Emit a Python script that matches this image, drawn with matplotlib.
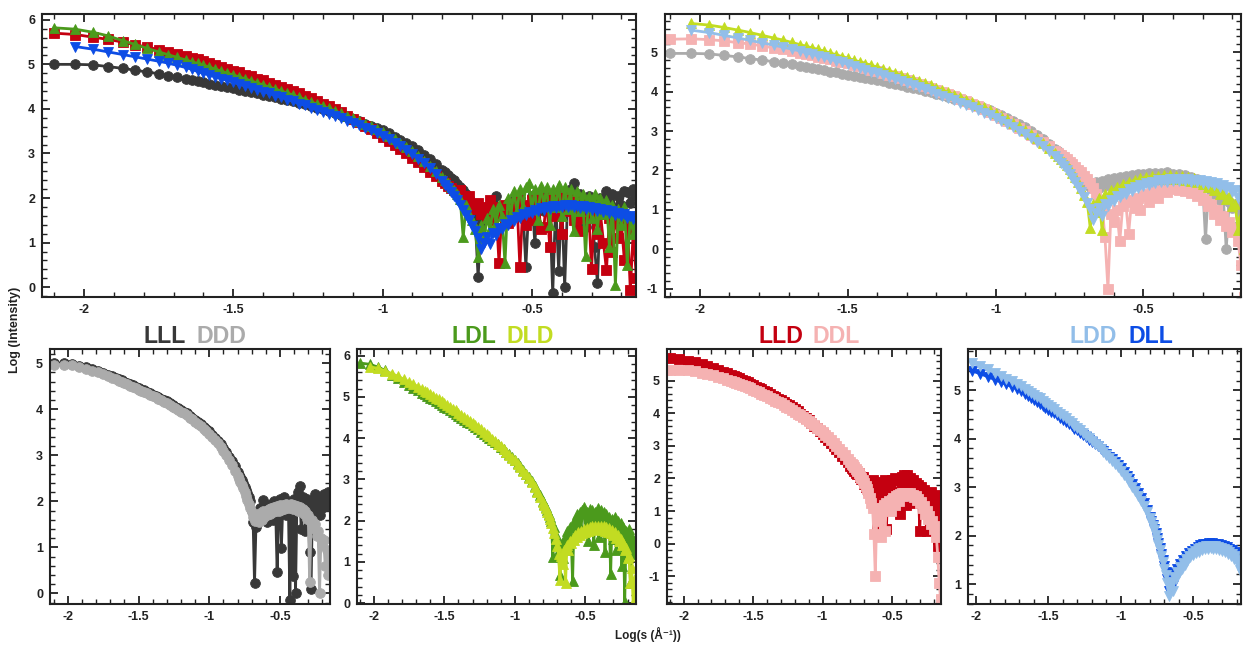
import numpy as np
import matplotlib
matplotlib.use('Agg')
import matplotlib.pyplot as plt
from matplotlib.ticker import MultipleLocator, FuncFormatter

nan = np.nan

# log10(s) grid shared by all curves
log_s = [
    -2.10, -2.03, -1.97, -1.92, -1.87, -1.83, -1.79, -1.75, -1.72, -1.69, -1.66,
    -1.64, -1.62, -1.60, -1.58, -1.56, -1.54, -1.52, -1.50, -1.48, -1.46,
    -1.44, -1.42, -1.40, -1.38, -1.36, -1.34, -1.32, -1.30, -1.28, -1.26,
    -1.24, -1.22, -1.20, -1.18, -1.16, -1.14, -1.12, -1.10, -1.08, -1.06,
    -1.04, -1.02, -1.00, -0.98, -0.96, -0.94, -0.92, -0.90, -0.88, -0.86,
    -0.84, -0.82,
    -0.80, -0.79, -0.78, -0.77, -0.76, -0.75, -0.74, -0.73, -0.72, -0.71,
    -0.70, -0.69, -0.68, -0.67, -0.66, -0.65, -0.64, -0.63, -0.62, -0.61,
    -0.60, -0.59, -0.58, -0.57, -0.56, -0.55, -0.54, -0.53, -0.52, -0.51,
    -0.50, -0.49, -0.48, -0.47, -0.46, -0.45, -0.44, -0.43, -0.42, -0.41,
    -0.40, -0.39, -0.38, -0.37, -0.36, -0.35, -0.34, -0.33, -0.32, -0.31,
    -0.30, -0.29, -0.28, -0.27, -0.26, -0.25, -0.24, -0.23, -0.22, -0.21,
    -0.20, -0.19, -0.18, -0.17, -0.16, -0.15,
]

LLL = [
    5.00, 5.00, 4.99, 4.95, 4.91, 4.87, 4.83, 4.79, 4.75, 4.72, 4.68,
    4.65, 4.63, 4.60, 4.57, 4.54, 4.52, 4.49, 4.46, 4.43, 4.41,
    4.38, 4.35, 4.32, 4.29, 4.26, 4.23, 4.20, 4.17, 4.13, 4.10,
    4.06, 4.03, 3.99, 3.95, 3.91, 3.86, 3.82, 3.77, 3.72, 3.67,
    3.62, 3.57, 3.52, 3.45, 3.38, 3.31, 3.24, 3.16, 3.07, 2.97,
    2.87, 2.76,
    2.64, 2.58, 2.52, 2.46, 2.40, 2.32, 2.25, 2.18, 2.10, 2.00,
    1.80, 1.55, 0.22, 1.45, 1.70, 1.60, 1.85, 1.75, 2.04, 1.65,
    1.80, 1.55, 1.90, 1.70, 1.95, 1.60, 2.00, 1.75, 0.46, 1.85,
    2.05, 0.99, 1.90, 2.10, 1.70, 2.00, 1.80, -0.14, 1.90, 0.37,
    2.05, 0.00, 1.95, 2.20, 2.33, 1.40, 2.10, 1.90, 1.35, 2.05,
    1.85, 0.90, 0.09, 2.00, 1.75, 2.15, 1.90, 2.10, 1.70, 2.05,
    1.85, 2.15, 2.13, 1.90, 2.20, 2.05,
]

DDD = [
    4.97, 4.97, 4.96, 4.92, 4.88, 4.84, 4.80, 4.76, 4.72, 4.69, 4.65,
    4.62, 4.60, 4.57, 4.54, 4.51, 4.49, 4.46, 4.43, 4.40, 4.38,
    4.35, 4.32, 4.29, 4.26, 4.23, 4.20, 4.16, 4.13, 4.09, 4.06,
    4.02, 3.99, 3.95, 3.91, 3.87, 3.82, 3.78, 3.73, 3.68, 3.63,
    3.58, 3.53, 3.47, 3.40, 3.33, 3.26, 3.18, 3.10, 3.00, 2.90,
    2.79, 2.67,
    2.55, 2.49, 2.43, 2.36, 2.29, 2.21, 2.12, 2.03, 1.94, 1.85,
    1.76, 1.66, 1.58, 1.62, 1.70, 1.55, 1.74, 1.60, 1.78, 1.66,
    1.80, 1.70, 1.84, 1.72, 1.86, 1.76, 1.88, 1.78, 1.90, 1.80,
    1.92, 1.82, 1.93, 1.84, 1.94, 1.85, 1.93, 1.86, 1.95, 1.84,
    1.92, 1.85, 1.90, 1.80, 1.88, 1.78, 1.84, 1.72, 1.78, 1.62,
    1.70, 0.25, 1.55, 1.60, 1.40, 1.50, 1.25, 1.35, 0.00, 1.20,
    1.05, 1.15, 0.60, 0.95, 0.40, 0.85,
]

LLD = [
    5.70, 5.67, 5.61, 5.56, 5.50, 5.44, 5.39, 5.33, 5.28, 5.23, 5.18,
    5.14, 5.11, 5.07, 5.03, 4.99, 4.95, 4.90, 4.86, 4.82, 4.77,
    4.73, 4.68, 4.64, 4.59, 4.54, 4.50, 4.45, 4.40, 4.35, 4.29,
    4.24, 4.18, 4.12, 4.06, 3.99, 3.92, 3.85, 3.78, 3.70, 3.62,
    3.54, 3.45, 3.36, 3.27, 3.18, 3.09, 3.00, 2.90, 2.80, 2.70,
    2.59, 2.49,
    2.38, 2.33, 2.28, 2.23, 2.18, 2.13, 2.18, 2.05, 1.98, 2.05,
    1.84, 1.75, 1.90, 1.65, 1.80, 1.55, 1.95, 1.50, 1.80, 0.54,
    1.70, 1.85, 1.45, 1.90, 1.60, 1.95, 0.45, 1.85, 1.40, 1.57,
    1.95, 1.50, 2.00, 1.30, 1.35, 1.95, 0.90, 2.05, 1.60, 2.10,
    1.20, 2.10, 1.70, 2.00, 1.50, 1.95, 1.25, 1.85, 1.55, 1.80,
    0.40, 1.75, 1.20, 1.65, 1.00, 0.38, 1.55, 0.80, 1.60, 1.10,
    1.45, 0.60, 1.50, -0.07, 1.30, 0.20,
]

DDL = [
    5.33, 5.34, 5.32, 5.29, 5.24, 5.21, 5.16, 5.11, 5.08, 5.03, 4.99,
    4.96, 4.93, 4.89, 4.86, 4.83, 4.79, 4.76, 4.72, 4.68, 4.64,
    4.60, 4.56, 4.52, 4.48, 4.43, 4.39, 4.34, 4.30, 4.25, 4.20,
    4.15, 4.10, 4.05, 3.99, 3.94, 3.88, 3.82, 3.76, 3.69, 3.63,
    3.56, 3.49, 3.42, 3.34, 3.26, 3.17, 3.09, 3.00, 2.91, 2.81,
    2.71, 2.61,
    2.50, 2.45, 2.40, 2.34, 2.28, 2.22, 2.16, 2.09, 2.02, 1.95,
    1.87, 1.78, 1.68, 1.55, 1.40, 1.25, 1.10, 0.30, -1.00, 0.90,
    0.70, 1.00, 0.20, 1.10, 1.20, 0.40, 1.25, 1.05, 1.30, 1.00,
    1.35, 1.40, 1.20, 1.45, 1.50, 1.30, 1.52, 1.55, 1.45, 1.55,
    1.52, 1.56, 1.50, 1.54, 1.48, 1.50, 1.42, 1.45, 1.35, 1.38,
    1.25, 1.28, 1.10, 1.15, 0.90, 1.00, 0.75, 0.85, 0.60, 0.70,
    0.45, 0.55, 0.20, -0.40, -1.20, -1.70,
]

LDL = [
    5.82, 5.79, 5.72, 5.64, 5.53, 5.45, 5.36, 5.28, 5.22, 5.16, 5.10,
    5.06, 5.02, 4.98, 4.94, 4.89, 4.85, 4.80, 4.76, 4.72, 4.67,
    4.63, 4.58, 4.54, 4.49, 4.45, 4.40, 4.36, 4.31, 4.26, 4.21,
    4.16, 4.11, 4.06, 4.01, 3.96, 3.90, 3.85, 3.79, 3.73, 3.67,
    3.61, 3.55, 3.48, 3.40, 3.32, 3.23, 3.14, 3.05, 2.95, 2.84,
    2.73, 2.61,
    2.48, 2.40, 2.33, 2.25, 2.17, 2.08, 1.98, 1.12, 1.85, 1.65,
    1.50, 1.30, 0.68, 1.40, 1.10, 1.55, 1.30, 1.75, 1.45, 1.85,
    1.60, 0.54, 2.00, 1.65, 2.15, 1.70, 2.20, 1.80, 2.25, 2.33,
    1.75, 2.20, 1.50, 2.28, 1.85, 2.25, 1.40, 2.20, 1.80, 2.30,
    1.60, 2.25, 1.75, 2.20, 1.25, 2.15, 1.70, 2.10, 0.70, 2.05,
    1.55, 2.10, 1.30, 2.00, 1.65, 1.95, 0.90, 1.85, 0.04, 1.75,
    1.40, 1.80, 0.50, 1.60, 1.20, 1.50,
]

DLD = [
    nan, 5.73, 5.69, 5.63, 5.56, 5.50, 5.43, 5.36, 5.31, 5.25, 5.19,
    5.15, 5.11, 5.07, 5.03, 4.98, 4.94, 4.89, 4.85, 4.80, 4.76,
    4.71, 4.67, 4.62, 4.57, 4.52, 4.47, 4.42, 4.37, 4.32, 4.26,
    4.21, 4.16, 4.10, 4.04, 3.98, 3.92, 3.86, 3.80, 3.74, 3.67,
    3.60, 3.53, 3.46, 3.38, 3.30, 3.21, 3.12, 3.03, 2.93, 2.82,
    2.70, 2.58,
    2.45, 2.38, 2.30, 2.22, 2.13, 2.04, 1.94, 1.83, 1.70, 1.55,
    1.38, 1.20, 0.55, 1.15, 0.95, 1.30, 0.50, 1.40, 1.30, 1.50,
    1.45, 1.58, 1.52, 1.65, 1.60, 1.72, 1.66, 1.76, 1.70, 1.80,
    1.73, 1.83, 1.76, 1.85, 1.78, 1.87, 1.79, 1.88, 1.80, 1.88,
    1.79, 1.87, 1.78, 1.86, 1.76, 1.84, 1.73, 1.81, 1.70, 1.77,
    1.65, 1.72, 1.58, 1.65, 1.50, 1.56, 1.40, 1.46, 1.28, 1.34,
    1.10, 1.15, 0.50, 0.85, 0.00, 0.60,
]

DLL = [
    nan, 5.40, 5.34, 5.28, 5.22, 5.17, 5.12, 5.07, 5.03, 4.98, 4.93,
    4.89, 4.84, 4.80, 4.76, 4.72, 4.68, 4.64, 4.60, 4.56, 4.52,
    4.48, 4.43, 4.39, 4.35, 4.30, 4.26, 4.21, 4.17, 4.12, 4.08,
    4.03, 3.98, 3.94, 3.89, 3.84, 3.79, 3.74, 3.69, 3.63, 3.58,
    3.52, 3.46, 3.40, 3.32, 3.24, 3.16, 3.07, 2.98, 2.88, 2.78,
    2.67, 2.53,
    2.38, 2.30, 2.22, 2.14, 2.05, 1.95, 1.85, 1.74, 1.62, 1.50,
    1.38, 1.25, 1.10, 0.85, 1.00, 1.12, 0.98, 1.22, 1.18, 1.32,
    1.30, 1.42, 1.40, 1.50, 1.48, 1.58, 1.55, 1.64, 1.61, 1.69,
    1.66, 1.73, 1.70, 1.77, 1.73, 1.80, 1.76, 1.82, 1.78, 1.83,
    1.79, 1.84, 1.79, 1.84, 1.79, 1.83, 1.78, 1.82, 1.76, 1.80,
    1.74, 1.78, 1.72, 1.76, 1.69, 1.73, 1.66, 1.70, 1.63, 1.67,
    1.60, 1.64, 1.56, 1.60, 1.52, 1.55,
]

LDD = [
    nan, 5.56, 5.50, 5.43, 5.36, 5.30, 5.24, 5.18, 5.13, 5.08, 5.03,
    4.99, 4.95, 4.91, 4.87, 4.83, 4.78, 4.74, 4.70, 4.65, 4.61,
    4.56, 4.51, 4.47, 4.42, 4.37, 4.32, 4.27, 4.22, 4.17, 4.12,
    4.06, 4.01, 3.95, 3.90, 3.84, 3.78, 3.72, 3.66, 3.60, 3.54,
    3.47, 3.41, 3.34, 3.26, 3.18, 3.10, 3.01, 2.92, 2.82, 2.72,
    2.61, 2.49,
    2.36, 2.28, 2.20, 2.11, 2.02, 1.92, 1.81, 1.70, 1.58, 1.45,
    1.32, 1.18, 1.02, 0.75, 0.92, 1.05, 0.85, 1.15, 1.10, 1.25,
    1.22, 1.35, 1.32, 1.44, 1.40, 1.52, 1.48, 1.58, 1.55, 1.64,
    1.60, 1.68, 1.64, 1.72, 1.67, 1.75, 1.70, 1.77, 1.72, 1.78,
    1.73, 1.79, 1.74, 1.79, 1.73, 1.78, 1.72, 1.77, 1.70, 1.75,
    1.68, 1.73, 1.66, 1.70, 1.62, 1.67, 1.58, 1.63, 1.52, 1.57,
    1.45, 1.50, 1.30, 1.42, 1.20, 1.35,
]

series = {'LLL': LLL, 'DDD': DDD, 'LLD': LLD, 'DDL': DDL,
          'LDL': LDL, 'DLD': DLD, 'DLL': DLL, 'LDD': LDD}
colors = {'LLL': '#383838', 'DDD': '#ababab', 'LLD': '#c40010', 'DDL': '#f5b2b2',
          'LDL': '#4b9a1c', 'DLD': '#c2dc22', 'DLL': '#0d4de5', 'LDD': '#92bee9'}
markers = {'LLL': 'o', 'DDD': 'o', 'LLD': 's', 'DDL': 's',
           'LDL': '^', 'DLD': '^', 'DLL': 'v', 'LDD': 'v'}

plt.rcParams['font.family'] = ['Liberation Sans', 'DejaVu Sans']
plt.rcParams['font.weight'] = 'bold'
plt.rcParams['axes.unicode_minus'] = False

W, H = 1243, 645
fig = plt.figure(figsize=(W / 100, H / 100), dpi=100)


def make_ax(x0, x1, y0, y1):
    # pixel box -> figure fraction
    return fig.add_axes([x0 / W, 1 - y1 / H, (x1 - x0) / W, (y1 - y0) / H])


def style(ax, xlim, ylim):
    ax.set_xlim(*xlim)
    ax.set_ylim(*ylim)
    ax.xaxis.set_major_locator(MultipleLocator(0.5))
    ax.xaxis.set_minor_locator(MultipleLocator(0.1))
    ax.yaxis.set_major_locator(MultipleLocator(1))
    ax.yaxis.set_minor_locator(MultipleLocator(0.2))
    fmt = FuncFormatter(lambda v, p: '%g' % (round(v, 3) + 0.0))
    ax.xaxis.set_major_formatter(fmt)
    ax.yaxis.set_major_formatter(fmt)
    ax.tick_params(which='both', direction='in', top=True, right=True,
                   labelsize=9, colors='#222222', pad=5)
    ax.tick_params(which='major', length=6, width=1.3)
    ax.tick_params(which='minor', length=3.5, width=1.0)
    for sp in ax.spines.values():
        sp.set_linewidth(1.5)
        sp.set_color('#222222')


def draw(ax, names):
    for n in names:
        c = colors[n]
        ax.plot(log_s, series[n], color=c, marker=markers[n], ms=7, lw=2.0,
                mfc=c, mec=c, mew=0.6)


panels = [
    ((42, 636, 14, 297), (-2.141, -0.151), (-0.22, 6.13), ['LLL', 'LLD', 'LDL', 'DLL']),
    ((665, 1241, 14, 297), (-2.118, -0.17), (-1.21, 5.97), ['DDD', 'DDL', 'DLD', 'LDD']),
    ((50, 330, 349, 604), (-2.127, -0.146), (-0.23, 5.31), ['LLL', 'DDD']),
    ((357, 636, 349, 604), (-2.12, -0.14), (-0.02, 6.16), ['LDL', 'DLD']),
    ((667, 941, 349, 604), (-2.12, -0.147), (-1.85, 5.97), ['LLD', 'DDL']),
    ((968, 1241, 349, 604), (-2.055, -0.17), (0.59, 5.85), ['DLL', 'LDD']),
]

for box, xl, yl, names in panels:
    ax = make_ax(*box)
    style(ax, xl, yl)
    draw(ax, names)

# pair titles over the bottom panels
titles = [('LLL', 'DDD', 186, 197), ('LDL', 'DLD', 496, 506),
          ('LLD', 'DDL', 803, 813), ('LDD', 'DLL', 1117, 1128)]
for a, b, xr, xlft in titles:
    fig.text(xr / W, 1 - 343 / H, a, color=colors[a], ha='right', va='baseline',
             fontsize=16.7, fontweight='bold')
    fig.text(xlft / W, 1 - 343 / H, b, color=colors[b], ha='left', va='baseline',
             fontsize=16.7, fontweight='bold')

fig.text(15 / W, 1 - 330 / H, 'Log (Intensity)', rotation=90, ha='center', va='center',
         fontsize=9, fontweight='bold', color='#222222')
fig.text(648 / W, 1 - 634 / H, 'Log(s (\u00c5\u207b\u00b9))', ha='center', va='center',
         fontsize=8.5, fontweight='bold', color='#222222')

fig.savefig('out.png', dpi=100)
